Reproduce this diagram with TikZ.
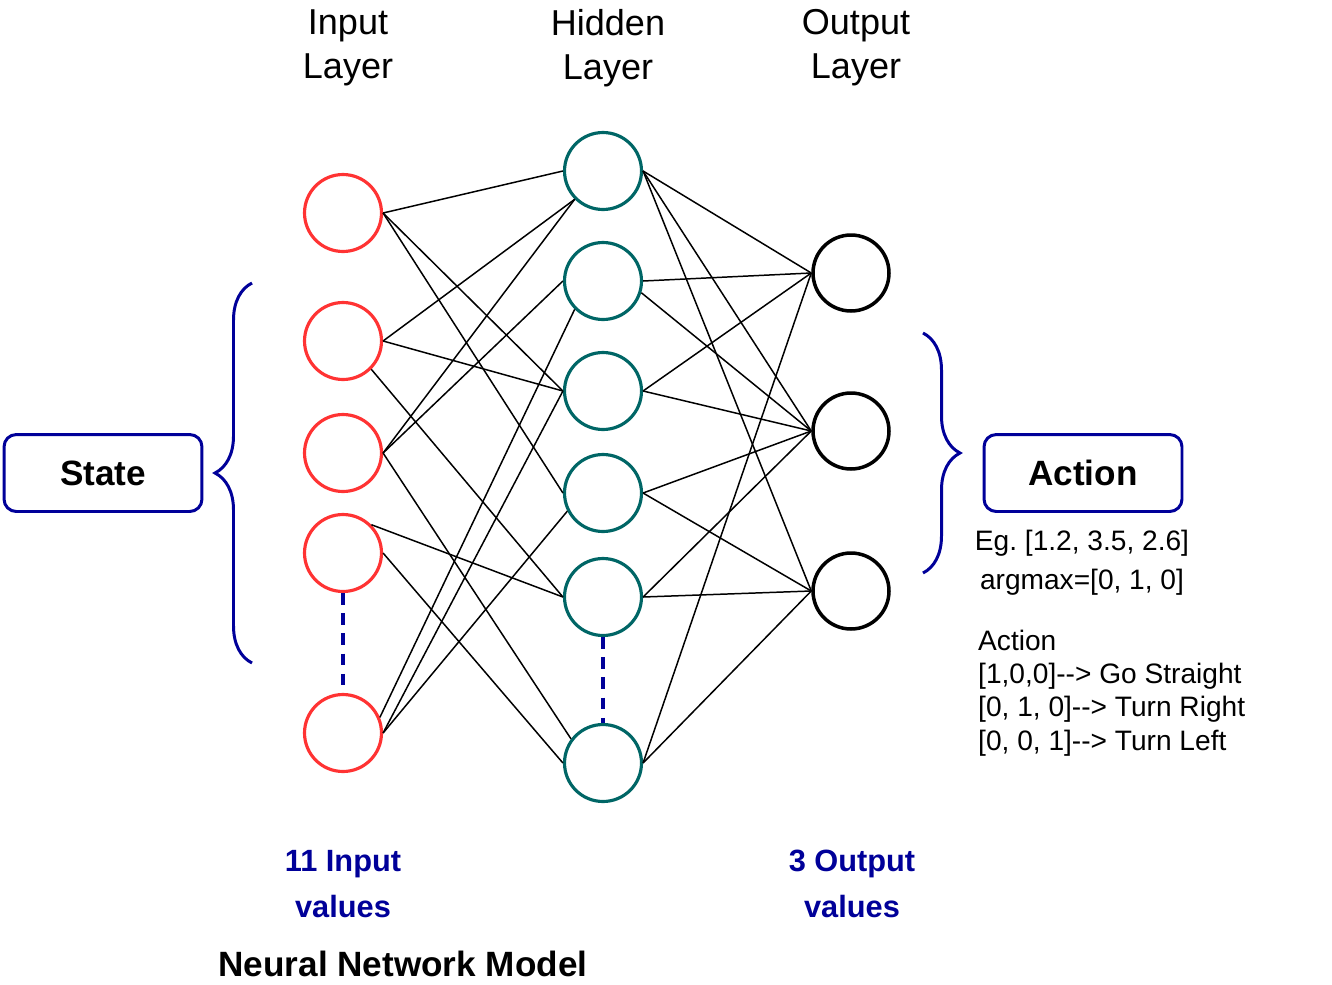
\documentclass[tikz,border=0pt]{standalone}
\usepackage{fontspec}
\setmainfont{Liberation Sans}
\usepackage{tikz}
\usetikzlibrary{positioning,decorations.pathreplacing}
\definecolor{myred}{RGB}{255,51,51}
\definecolor{myteal}{RGB}{0,102,102}
\definecolor{mynavy}{RGB}{0,0,153}
\frenchspacing
\tikzstyle{invertex}=[draw=myred,circle,line width=1.8pt,minimum size=1.54cm,inner sep=0pt]
\tikzstyle{hidvertex}=[draw=myteal,circle,line width=1.8pt,minimum size=1.54cm,inner sep=0pt]
\tikzstyle{outvertex}=[draw=black,circle,line width=2pt,minimum size=1.52cm,inner sep=0pt]
\tikzstyle{link}=[black,line width=0.85pt]
\tikzstyle{gapline}=[mynavy,line width=2pt,dash pattern=on 6.5pt off 5pt]
\tikzstyle{labelbox}=[draw=mynavy,rounded corners=7pt,line width=1.7pt,minimum width=3.96cm,minimum height=1.54cm,font=\bfseries\fontsize{20}{24}\selectfont]
\tikzstyle{bracket}=[mynavy,line width=1.7pt,decorate,decoration={brace,amplitude=0.74cm,aspect=0.5}]
\tikzstyle{layertitle}=[align=center,font=\fontsize{20.5}{25}\selectfont]
\tikzstyle{counttext}=[align=center,text=mynavy,font=\bfseries\fontsize{17.5}{26}\selectfont]
\tikzstyle{note}=[font=\fontsize{16}{19}\selectfont]

\begin{document}
\begin{tikzpicture}[x=0.02cm,y=-0.02cm]
\useasboundingbox (0,0) rectangle (1332,984);
% layers
\node [invertex] (i1) at (343,213) {};
\node [invertex] (i2) at (343,341) {};
\node [invertex] (i3) at (343,453) {};
\node [invertex] (i4) at (343,553) {};
\node [invertex] (i5) at (343,733) {};
\node [hidvertex] (h1) at (603,171) {};
\node [hidvertex] (h2) at (603,281) {};
\node [hidvertex] (h3) at (603,391) {};
\node [hidvertex] (h4) at (603,493) {};
\node [hidvertex] (h5) at (603,597) {};
\node [hidvertex] (h6) at (603,763) {};
\node [outvertex] (o1) at (851,273) {};
\node [outvertex] (o2) at (851,431) {};
\node [outvertex] (o3) at (851,591) {};
% weights
\foreach \a/\b in {i1.east/h1.west, i1.east/h3.west, i1.east/h4.west,
  i2.east/h1.225, i2.east/h3.west, i2.-45/h5.west,
  i3.east/h1.225, i3.east/h2.west, i3.east/h6.143,
  i4.45/h5.west, i4.east/h6.west,
  i5.23/h2.225, i5.east/h3.west, i5.east/h4.207}
  \draw [link] (\a) -- (\b);
\foreach \a/\b in {h1.east/o1.west, h1.east/o2.west, h1.east/o3.west,
  h2.east/o1.west, h2.-17/o2.west,
  h3.east/o1.west, h3.east/o2.west,
  h4.east/o2.west, h4.east/o3.west,
  h5.east/o2.west, h5.east/o3.west,
  h6.east/o1.west, h6.east/o3.west}
  \draw [link] (\a) -- (\b);
\draw [gapline] (i4.south) -- (i5.north);
\draw [gapline] (h5.south) -- (h6.north);
% titles
\node [layertitle] (tin) at (348,48) {Input\\Layer};
\node [layertitle] (thid) at (608,48) {Hidden\\Layer};
\node [layertitle] (tout) at (856,48) {Output\\Layer};
% state and action
\node [labelbox] (state) at (103,473) {State};
\node [labelbox] (action) at (1083,473) {Action};
\coordinate (lbtop) at (252,283);
\coordinate (lbbot) at (252,663);
\coordinate (rbtop) at (923,333);
\coordinate (rbbot) at (923,573);
\draw [bracket] (lbbot) -- (lbtop);
\draw [bracket] (rbtop) -- (rbbot);
\node [note] (eg) at (1082,543) {Eg. [1.2, 3.5, 2.6]};
\node [note] (amax) at (1082,582) {argmax=[0, 1, 0]};
\node [note,align=left,anchor=west] (acts) at (972,693) {Action\\{}[1,0,0]{-}{-}> Go Straight\\{}[0, 1, 0]{-}{-}> Turn Right\\{}[0, 0, 1]{-}{-}> Turn Left};
% bottom
\node [counttext] (nin) at (343,884) {11 Input\\values};
\node [counttext] (nout) at (852,884) {3 Output\\values};
\node [font=\bfseries\fontsize{20}{24}\selectfont] (model) at (403,964) {Neural Network Model};
\end{tikzpicture}
\end{document}
